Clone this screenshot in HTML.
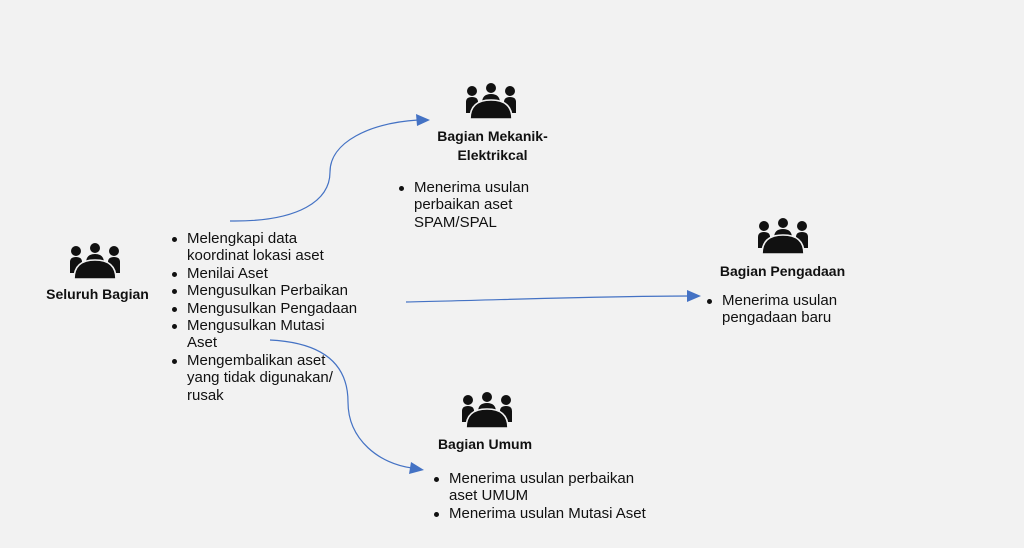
<!DOCTYPE html>
<html><head><meta charset="utf-8"><style>
html,body{margin:0;padding:0}
body{width:1024px;height:548px;background:#f2f2f2;position:relative;overflow:hidden;font-family:"Liberation Sans",sans-serif;color:#111}
.ic{position:absolute;width:50px;height:36px}
.lbl{position:absolute;font-weight:bold;font-size:14px;text-align:center;line-height:19px}
ul{position:absolute;margin:0;padding:0 0 0 18px;font-size:15px;line-height:17.4px;list-style:none}
li{position:relative}
li:before{content:"";position:absolute;left:-15px;top:7px;width:5px;height:5px;border-radius:50%;background:#111}
</style></head><body>
<svg width="0" height="0" style="position:absolute"><defs>
<g id="p">
<circle cx="25" cy="5" r="5" fill="#111"/>
<circle cx="6" cy="8" r="5" fill="#111"/>
<circle cx="44" cy="8" r="5" fill="#111"/>
<path d="M0,30 L0,19 Q0,14 6,14 Q12,14 12,19 L12,30 Z" fill="#111"/>
<path d="M38,30 L38,19 Q38,14 44,14 Q50,14 50,19 L50,30 Z" fill="#111"/>
<path d="M16,20 Q16,11 25,11 Q34,11 34,20 Z" fill="#111"/>
<path d="M4,36 Q4,17 25,17 Q46,17 46,36 Z" fill="#111" stroke="#f2f2f2" stroke-width="1.6"/>
</g></defs></svg>

<svg class="ic" style="left:70px;top:243px" viewBox="0 0 50 36"><use href="#p"/></svg>
<svg class="ic" style="left:466px;top:83px" viewBox="0 0 50 36"><use href="#p"/></svg>
<svg class="ic" style="left:758px;top:218px" viewBox="0 0 50 36"><use href="#p"/></svg>
<svg class="ic" style="left:462px;top:392px" viewBox="0 0 50 36"><use href="#p"/></svg>

<div class="lbl" style="left:40px;top:285px;width:115px">Seluruh Bagian</div>
<div class="lbl" style="left:420px;top:127px;width:145px">Bagian Mekanik-<br>Elektrikcal</div>
<div class="lbl" style="left:705px;top:262px;width:155px">Bagian Pengadaan</div>
<div class="lbl" style="left:420px;top:435px;width:130px">Bagian Umum</div>

<ul style="left:169px;top:230px;width:200px">
<li>Melengkapi data<br>koordinat lokasi aset</li>
<li>Menilai Aset</li>
<li>Mengusulkan Perbaikan</li>
<li>Mengusulkan Pengadaan</li>
<li>Mengusulkan Mutasi<br>Aset</li>
<li>Mengembalikan aset<br>yang tidak digunakan/<br>rusak</li>
</ul>
<ul style="left:396px;top:179px;width:170px">
<li>Menerima usulan<br>perbaikan aset<br>SPAM/SPAL</li>
</ul>
<ul style="left:704px;top:292px;width:170px">
<li>Menerima usulan<br>pengadaan baru</li>
</ul>
<ul style="left:431px;top:470px;width:260px">
<li>Menerima usulan perbaikan<br>aset UMUM</li>
<li>Menerima usulan Mutasi Aset</li>
</ul>

<svg style="position:absolute;left:0;top:0" width="1024" height="548">
<g fill="none" stroke="#4472c4" stroke-width="1.2">
<path d="M230,221 C300,222 330,200 330,172 C330,142 370,123 418,120"/>
<path d="M406,302 C500,300 600,296 689,296"/>
<path d="M270,340 C330,343 348,370 348,402 C348,440 380,464 412,468"/>
</g>
<g fill="#4472c4">
<path d="M430,120 L416,114 L417,126 Z"/>
<path d="M701,296 L687,290 L687,302 Z"/>
<path d="M424,470 L411,462 L409,474 Z"/>
</g>
</svg>
</body></html>
